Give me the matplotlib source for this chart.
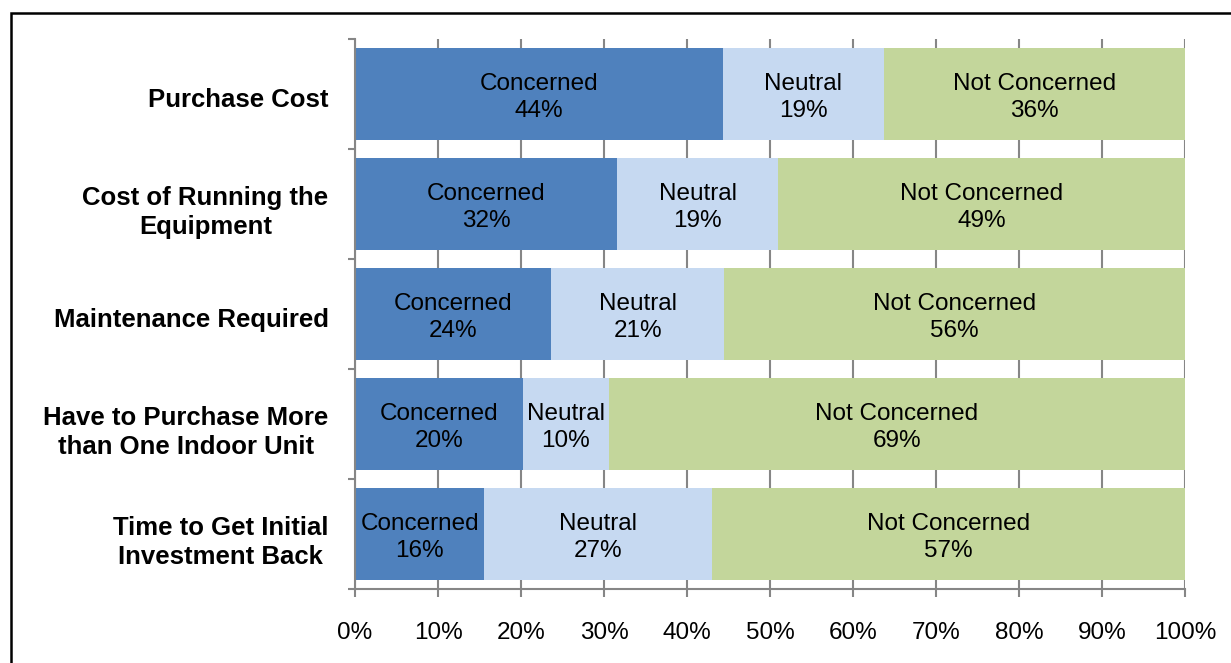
import matplotlib
matplotlib.use("Agg")
import matplotlib.pyplot as plt
from matplotlib.patches import Rectangle
from matplotlib.ticker import FixedLocator, PercentFormatter

plt.rcParams['font.family'] = ['Liberation Sans', 'DejaVu Sans']

categories = [
    "Purchase Cost",
    "Cost of Running the\nEquipment",
    "Maintenance Required",
    "Have to Purchase More\nthan One Indoor Unit",
    "Time to Get Initial\nInvestment Back",
]
series_names = ["Concerned", "Neutral", "Not Concerned"]
concerned = [44.3, 31.6, 23.6, 20.2, 15.6]
neutral = [19.4, 19.4, 20.9, 10.4, 27.4]
not_concerned = [36.3, 49.0, 55.5, 69.4, 57.0]
colors = ["#4F81BD", "#C6D9F1", "#C3D69B"]
x_ticks = [0, 10, 20, 30, 40, 50, 60, 70, 80, 90, 100]

W, H = 1231, 663
fig = plt.figure(figsize=(W / 100, H / 100), dpi=100)
ax = fig.add_axes([355 / W, 1 - 589 / H, (1185 - 355) / W, (589 - 39) / H])

n = len(categories)
ypos = list(range(n))
left = [0.0] * n
for name, vals, col in zip(series_names, [concerned, neutral, not_concerned], colors):
    ax.barh(ypos, vals, left=left, height=0.84, color=col, edgecolor='none', zorder=2)
    for y, l, v in zip(ypos, left, vals):
        ax.text(l + v / 2, y + 0.03, f"{name}\n{round(v):.0f}%", ha='center', va='center',
                fontsize=17.5, color='black', linespacing=1.3, zorder=3)
    left = [a + b for a, b in zip(left, vals)]

ax.set_xlim(0, 100)
ax.set_ylim(n - 0.5, -0.5)

# gridlines and axis styling
axis_gray = "#868686"
ax.set_xticks(x_ticks)
ax.xaxis.set_major_formatter(PercentFormatter(decimals=0))
ax.xaxis.grid(True, color=axis_gray, linewidth=1.5, zorder=0)
ax.set_axisbelow(True)
ax.tick_params(axis='x', length=6, width=1.5, color=axis_gray, labelsize=17.5, pad=18)

ax.yaxis.set_major_locator(FixedLocator([i - 0.5 for i in range(n + 1)]))
ax.yaxis.set_minor_locator(FixedLocator([y + 0.03 for y in ypos]))
ax.set_yticklabels([], minor=False)
ax.set_yticklabels(categories, minor=True, fontsize=18.5, fontweight='bold')
for lbl in ax.get_yticklabels(minor=True):
    lbl.set_multialignment('center')
    lbl.set_linespacing(1.28)
ax.tick_params(axis='y', which='major', length=5, width=1.5, color=axis_gray)
ax.tick_params(axis='y', which='minor', length=0, pad=19)

for side in ['top', 'right']:
    ax.spines[side].set_visible(False)
for side in ['left', 'bottom']:
    ax.spines[side].set_color(axis_gray)
    ax.spines[side].set_linewidth(1.5)

# outer frame of the chart area
frame = Rectangle((10.5 / W, -0.1), 1.2, 1 - 13 / H + 0.1, transform=fig.transFigure,
                  fill=False, edgecolor='black', linewidth=1.8, clip_on=False)
fig.patches.append(frame)

fig.savefig("out.png", dpi=100)
